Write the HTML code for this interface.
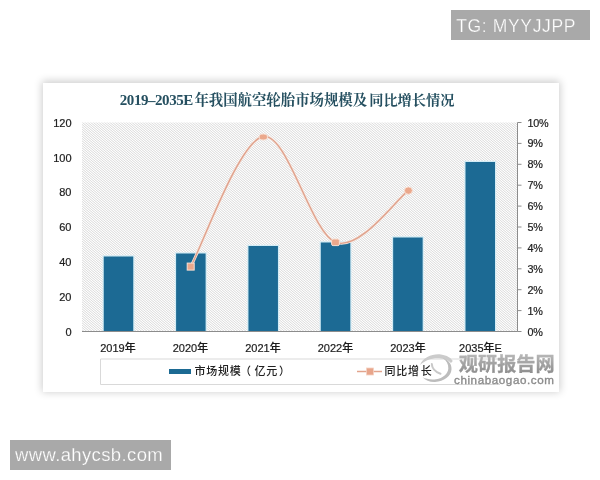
<!DOCTYPE html>
<html lang="zh-CN">
<head>
<meta charset="utf-8">
<title>2019-2035E年我国航空轮胎市场规模及同比增长情况</title>
<style>
html,body{margin:0;padding:0;background:#fff;}
body{width:600px;height:480px;position:relative;overflow:hidden;font-family:"Liberation Sans","Noto Sans CJK SC",sans-serif;}
.tag{position:absolute;background:#a9a9a9;color:#fff;font-family:"Liberation Sans",sans-serif;white-space:nowrap;}
#tg{left:451px;top:10px;width:139px;height:30px;font-size:17.5px;line-height:30px;letter-spacing:0.65px;-webkit-text-stroke:0.25px #a9a9a9;}
#tg span{position:absolute;left:5.2px;top:1.2px;}
#www{left:10px;top:440px;width:161px;height:30px;font-size:18.5px;line-height:29px;letter-spacing:0.37px;-webkit-text-stroke:0.25px #a9a9a9;}
#www span{position:absolute;left:5px;top:0;}
#card{position:absolute;left:43px;top:82.5px;width:516px;height:309.5px;background:#fff;box-shadow:0 -1.5px 8px 1px rgba(0,0,0,0.2);}
svg{position:absolute;left:0;top:0;}
</style>
</head>
<body>
<div class="tag" id="tg"><span>TG: MYYJJPP</span></div>
<div class="tag" id="www"><span>www.ahycsb.com</span></div>
<div id="card"></div>
<svg width="600" height="480" viewBox="0 0 600 480">
  <defs>
    <pattern id="hatch" width="11" height="7" patternUnits="userSpaceOnUse" shape-rendering="crispEdges"><rect x="0" y="0" width="1" height="1" fill="#ffffff"/><rect x="1" y="0" width="1" height="1" fill="#e7e7e7"/><rect x="2" y="0" width="1" height="1" fill="#e9e9e9"/><rect x="3" y="0" width="1" height="1" fill="#ffffff"/><rect x="4" y="0" width="1" height="1" fill="#e0e0e0"/><rect x="5" y="0" width="1" height="1" fill="#f3f3f3"/><rect x="6" y="0" width="1" height="1" fill="#f9f9f9"/><rect x="7" y="0" width="1" height="1" fill="#dedede"/><rect x="8" y="0" width="1" height="1" fill="#fbfbfb"/><rect x="9" y="0" width="1" height="1" fill="#f0f0f0"/><rect x="10" y="0" width="1" height="1" fill="#e1e1e1"/><rect x="0" y="1" width="1" height="1" fill="#dfdfdf"/><rect x="1" y="1" width="1" height="1" fill="#fdfdfd"/><rect x="2" y="1" width="1" height="1" fill="#ededed"/><rect x="3" y="1" width="1" height="1" fill="#e3e3e3"/><rect x="4" y="1" width="1" height="1" fill="#ffffff"/><rect x="5" y="1" width="1" height="1" fill="#e4e4e4"/><rect x="6" y="1" width="1" height="1" fill="#ececec"/><rect x="7" y="1" width="1" height="1" fill="#fefefe"/><rect x="8" y="1" width="1" height="1" fill="#dfdfdf"/><rect x="9" y="1" width="1" height="1" fill="#f5f5f5"/><rect x="10" y="1" width="1" height="1" fill="#f7f7f7"/><rect x="0" y="2" width="1" height="1" fill="#fcfcfc"/><rect x="1" y="2" width="1" height="1" fill="#dedede"/><rect x="2" y="2" width="1" height="1" fill="#f8f8f8"/><rect x="3" y="2" width="1" height="1" fill="#f4f4f4"/><rect x="4" y="2" width="1" height="1" fill="#dfdfdf"/><rect x="5" y="2" width="1" height="1" fill="#fefefe"/><rect x="6" y="2" width="1" height="1" fill="#ebebeb"/><rect x="7" y="2" width="1" height="1" fill="#e6e6e6"/><rect x="8" y="2" width="1" height="1" fill="#ffffff"/><rect x="9" y="2" width="1" height="1" fill="#e2e2e2"/><rect x="10" y="2" width="1" height="1" fill="#efefef"/><rect x="0" y="3" width="1" height="1" fill="#e8e8e8"/><rect x="1" y="3" width="1" height="1" fill="#ffffff"/><rect x="2" y="3" width="1" height="1" fill="#e1e1e1"/><rect x="3" y="3" width="1" height="1" fill="#f1f1f1"/><rect x="4" y="3" width="1" height="1" fill="#fafafa"/><rect x="5" y="3" width="1" height="1" fill="#dedede"/><rect x="6" y="3" width="1" height="1" fill="#fafafa"/><rect x="7" y="3" width="1" height="1" fill="#f1f1f1"/><rect x="8" y="3" width="1" height="1" fill="#e1e1e1"/><rect x="9" y="3" width="1" height="1" fill="#ffffff"/><rect x="10" y="3" width="1" height="1" fill="#e8e8e8"/><rect x="0" y="4" width="1" height="1" fill="#efefef"/><rect x="1" y="4" width="1" height="1" fill="#e2e2e2"/><rect x="2" y="4" width="1" height="1" fill="#ffffff"/><rect x="3" y="4" width="1" height="1" fill="#e6e6e6"/><rect x="4" y="4" width="1" height="1" fill="#ebebeb"/><rect x="5" y="4" width="1" height="1" fill="#fefefe"/><rect x="6" y="4" width="1" height="1" fill="#dfdfdf"/><rect x="7" y="4" width="1" height="1" fill="#f4f4f4"/><rect x="8" y="4" width="1" height="1" fill="#f8f8f8"/><rect x="9" y="4" width="1" height="1" fill="#dedede"/><rect x="10" y="4" width="1" height="1" fill="#fcfcfc"/><rect x="0" y="5" width="1" height="1" fill="#f7f7f7"/><rect x="1" y="5" width="1" height="1" fill="#f5f5f5"/><rect x="2" y="5" width="1" height="1" fill="#dfdfdf"/><rect x="3" y="5" width="1" height="1" fill="#fefefe"/><rect x="4" y="5" width="1" height="1" fill="#ececec"/><rect x="5" y="5" width="1" height="1" fill="#e4e4e4"/><rect x="6" y="5" width="1" height="1" fill="#ffffff"/><rect x="7" y="5" width="1" height="1" fill="#e3e3e3"/><rect x="8" y="5" width="1" height="1" fill="#ededed"/><rect x="9" y="5" width="1" height="1" fill="#fdfdfd"/><rect x="10" y="5" width="1" height="1" fill="#dfdfdf"/><rect x="0" y="6" width="1" height="1" fill="#e1e1e1"/><rect x="1" y="6" width="1" height="1" fill="#f0f0f0"/><rect x="2" y="6" width="1" height="1" fill="#fbfbfb"/><rect x="3" y="6" width="1" height="1" fill="#dedede"/><rect x="4" y="6" width="1" height="1" fill="#f9f9f9"/><rect x="5" y="6" width="1" height="1" fill="#f3f3f3"/><rect x="6" y="6" width="1" height="1" fill="#e0e0e0"/><rect x="7" y="6" width="1" height="1" fill="#ffffff"/><rect x="8" y="6" width="1" height="1" fill="#e9e9e9"/><rect x="9" y="6" width="1" height="1" fill="#e7e7e7"/><rect x="10" y="6" width="1" height="1" fill="#ffffff"/></pattern>
    <linearGradient id="wm" x1="0" y1="355" x2="0" y2="373" gradientUnits="userSpaceOnUse"><stop offset="0" stop-color="#b6b6b6"/><stop offset="1" stop-color="#8e8e8e"/></linearGradient>
    <filter id="soft" x="-5%" y="-5%" width="110%" height="110%"><feGaussianBlur stdDeviation="0.45"/></filter>
  </defs>
  <!-- plot area -->
  <rect x="82" y="122.5" width="435.5" height="209" fill="url(#hatch)"/>
  <g filter="url(#soft)">
  <!-- title -->
  <text x="119.8" y="105.4" font-family="'Liberation Serif','Noto Serif CJK SC',serif" font-weight="bold" font-size="14.4" fill="#255060"><tspan font-size="15" letter-spacing="-0.45">2019–2035E</tspan><tspan x="194.4">年我国航空轮胎市场规模及</tspan><tspan x="369.2" font-size="14.2">同比增长情况</tspan></text>
  <!-- left axis labels -->
  <g font-size="11" fill="#1c1c1c" stroke="#1c1c1c" stroke-width="0.2" text-anchor="end" font-family="'Liberation Sans',sans-serif">
    <text x="71.5" y="127">120</text>
    <text x="71.5" y="161.7">100</text>
    <text x="71.5" y="196.4">80</text>
    <text x="71.5" y="231.1">60</text>
    <text x="71.5" y="265.8">40</text>
    <text x="71.5" y="300.5">20</text>
    <text x="71.5" y="336.4">0</text>
  </g>
  <!-- right axis -->
  <g stroke="#8c8c8c" stroke-width="1" fill="none">
    <path d="M517.5,122.5 V331.5"/>
    <path d="M517.5,122.5 h4 M517.5,143.4 h4 M517.5,164.3 h4 M517.5,185.2 h4 M517.5,206.1 h4 M517.5,227 h4 M517.5,247.9 h4 M517.5,268.8 h4 M517.5,289.7 h4 M517.5,310.6 h4 M517.5,331.5 h4"/>
    <path d="M82,331.5 H517.5"/>
  </g>
  <g font-size="10.8" letter-spacing="-0.3" fill="#1c1c1c" stroke="#1c1c1c" stroke-width="0.2" font-family="'Liberation Sans',sans-serif">
    <text x="527.5" y="126.5">10%</text>
    <text x="527.5" y="147.4">9%</text>
    <text x="527.5" y="168.3">8%</text>
    <text x="527.5" y="189.2">7%</text>
    <text x="527.5" y="210.1">6%</text>
    <text x="527.5" y="231">5%</text>
    <text x="527.5" y="251.9">4%</text>
    <text x="527.5" y="272.8">3%</text>
    <text x="527.5" y="293.7">2%</text>
    <text x="527.5" y="314.6">1%</text>
    <text x="527.5" y="335.5">0%</text>
  </g>
  <!-- bars -->
  <g fill="#d3ecf5">
    <rect x="102.55" y="255.3" width="31.9" height="76.2"/>
    <rect x="174.90" y="252.3" width="31.9" height="79.2"/>
    <rect x="247.25" y="244.8" width="31.9" height="86.7"/>
    <rect x="319.60" y="241.3" width="31.9" height="90.2"/>
    <rect x="391.95" y="236.3" width="31.9" height="95.2"/>
    <rect x="464.30" y="160.8" width="31.9" height="170.7"/>
  </g>
  <g fill="#1d6b94">
    <rect x="103.75" y="256.5" width="29.5" height="75.0"/>
    <rect x="176.1" y="253.5" width="29.5" height="78.0"/>
    <rect x="248.45" y="246" width="29.5" height="85.5"/>
    <rect x="320.8" y="242.5" width="29.5" height="89.0"/>
    <rect x="393.15" y="237.5" width="29.5" height="94.0"/>
    <rect x="465.5" y="162" width="29.5" height="169.5"/>
  </g>
  <path d="M82,331.5 H517.5" stroke="#8c8c8c" stroke-width="1"/>
  <!-- line -->
  <path d="M190.7,266.6 C202.8,244.9 239.2,140.6 263.3,136.5 C287.4,132.4 311.3,233.3 335.5,242.3 C359.7,251.3 396.2,199.2 408.4,190.6" fill="none" stroke="#f7e6de" stroke-width="2.8" stroke-linecap="round"/>
  <path d="M190.7,266.6 C202.8,244.9 239.2,140.6 263.3,136.5 C287.4,132.4 311.3,233.3 335.5,242.3 C359.7,251.3 396.2,199.2 408.4,190.6" fill="none" stroke="#dfa28d" stroke-width="1.4" stroke-linecap="round"/>
  <g fill="#eba88c" stroke="#f8e0d4" stroke-width="1">
    <rect x="187.2" y="263.1" width="7" height="7"/>
    <ellipse cx="263.3" cy="137" rx="4.2" ry="3"/>
    <rect x="331.6" y="239" width="7.8" height="6.6" rx="1.5"/>
    <ellipse cx="408.4" cy="190.6" rx="4" ry="3.7"/>
  </g>
  <!-- x labels -->
  <g font-size="11" font-weight="500" fill="#1c1c1c" stroke="#1c1c1c" stroke-width="0.2" text-anchor="middle" font-family="'Liberation Sans','Noto Sans CJK SC',sans-serif">
    <text x="118" y="351.5">2019年</text>
    <text x="190.5" y="351.5">2020年</text>
    <text x="263" y="351.5">2021年</text>
    <text x="335.5" y="351.5">2022年</text>
    <text x="408" y="351.5">2023年</text>
    <text x="480.5" y="351.5">2035年E</text>
  </g>
  <!-- legend -->
  <path d="M500,359 H100.5 V384.5 H500" fill="none" stroke="#d9d9d9" stroke-width="1"/>
  <rect x="169" y="369" width="22" height="5" fill="#1e6b93"/>
  <text x="194.5 206.2 218 229.8 240 254.5 266.2 279" y="374.9" font-size="11" font-weight="500" fill="#222" font-family="'Liberation Sans','Noto Sans CJK SC',sans-serif">市场规模（亿元）</text>
  <path d="M357,371.5 H382" stroke="#e2a48d" stroke-width="1.5"/>
  <rect x="366.5" y="368" width="7" height="7" fill="#e8a58b" stroke="#f4d3c4" stroke-width="0.8"/>
  <text x="384.5 396.2 408 420.8" y="374.9" font-size="11" font-weight="500" fill="#222" font-family="'Liberation Sans','Noto Sans CJK SC',sans-serif">同比增长</text>
  <!-- watermark -->
  <g>
    <path d="M420,365 C423,357 433,353.5 441,354.5 C447,355.3 451,358 452.8,361 L451,363 C448,360 444,358.5 439,358.3 C431,358 425,360.5 420,365 Z" fill="#cbcbcb"/>
    <path d="M442.5,358 C448,359.5 452,364 451.5,369.5 C451,376 444,381.5 435,382 C430,382.2 425.5,380.5 422.5,377.2 C426,379 431,379.8 436,379.2 C443,378.3 448,374 448.3,368.5 C448.5,364 446.5,360.5 442.5,358 Z" fill="#bcbcbc"/>
    <path d="M431.8,364 C432,368 434,371.5 440.5,373.7" fill="none" stroke="#c8c8c8" stroke-width="2" stroke-linecap="round"/>
    <text x="458.8" y="371.3" font-size="19.2" font-weight="bold" fill="url(#wm)" stroke="url(#wm)" stroke-width="0.3" font-family="'Liberation Sans','Noto Sans CJK SC',sans-serif">观研报告网</text>
    <text x="454" y="384.3" font-size="11.6" letter-spacing="0.6" fill="#8a8a8a" stroke="#8a8a8a" stroke-width="0.35" font-family="'Liberation Sans',sans-serif">chinabaogao.com</text>
  </g>
  </g>
</svg>
</body>
</html>
